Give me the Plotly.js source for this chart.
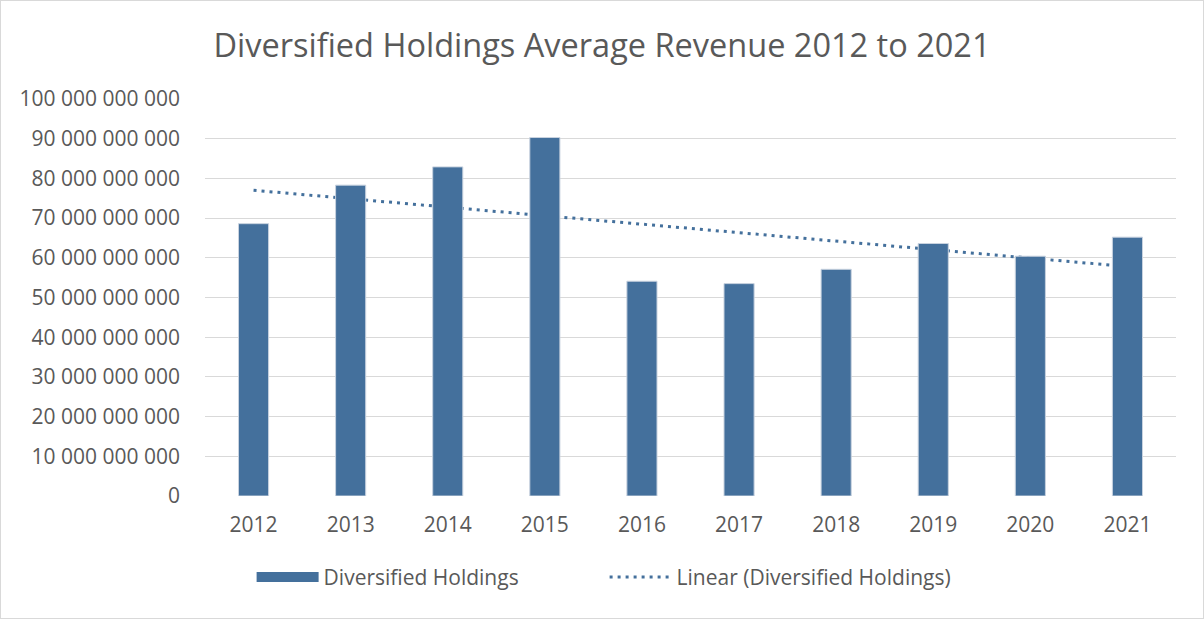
<!DOCTYPE html>
<html>
<head>
<meta charset="utf-8">
<script src="https://cdn.plot.ly/plotly-3.0.1.min.js"></script>
<style>
  html, body { margin: 0; padding: 0; background: #fff; }
  #chart { width: 1202px; height: 617px; border: 1px solid #d9d9d9; }
</style>
</head>
<body>
<div id="chart"></div>
<script>
const years = ["2012", "2013", "2014", "2015", "2016", "2017", "2018", "2019", "2020", "2021"];
const revenue = [68.6e9, 78.3e9, 82.9e9, 90.3e9, 54.1e9, 53.5e9, 57.1e9, 63.6e9, 60.4e9, 65.2e9];
const yTicks = [0, 1e10, 2e10, 3e10, 4e10, 5e10, 6e10, 7e10, 8e10, 9e10, 1e11];

const barColor = "#44709c";
const textColor = "#595959";
const gridColor = "#d9d9d9";

// least squares line over the bar values, like the spreadsheet trendline
function linearTrend(values) {
  const n = values.length;
  const xs = values.map((_, i) => i + 1);
  const mx = xs.reduce((a, b) => a + b, 0) / n;
  const my = values.reduce((a, b) => a + b, 0) / n;
  let sxy = 0;
  let sxx = 0;
  xs.forEach((x, i) => {
    sxy += (x - mx) * (values[i] - my);
    sxx += (x - mx) * (x - mx);
  });
  const slope = sxy / sxx;
  return xs.map((x) => my + slope * (x - mx));
}

const bars = {
  type: "bar",
  name: "Diversified Holdings",
  x: years,
  y: revenue,
  marker: { color: barColor, line: { color: "#c8d2df", width: 1 } },
  zorder: 2,
  showlegend: false,
};

// legend entry only: a wide filled swatch like the spreadsheet legend
const barKey = {
  type: "scatter",
  mode: "lines",
  name: "Diversified Holdings",
  x: [years[0]],
  y: [null],
  line: { color: barColor, width: 14 },
  hoverinfo: "skip",
};

const trend = {
  type: "scatter",
  mode: "lines",
  name: "Linear (Diversified Holdings)",
  x: years,
  y: linearTrend(revenue),
  line: { color: barColor, width: 3, dash: "3px,5px" },
  zorder: 1,
};

const layout = {
  width: 1202,
  height: 617,
  margin: { l: 204, r: 27, t: 98, b: 122 },
  paper_bgcolor: "#fff",
  plot_bgcolor: "#fff",
  separators: ". ",
  font: { family: "Open Sans, Liberation Sans, sans-serif", color: textColor, size: 21 },
  title: {
    text: "Diversified Holdings Average Revenue 2012 to 2021",
    font: { size: 32.5, color: textColor },
    x: 0.5,
    xanchor: "center",
    y: 0.928,
    yanchor: "middle",
  },
  bargap: 0.69,
  showlegend: true,
  legend: {
    orientation: "h",
    x: 0.048,
    xanchor: "left",
    y: -0.205,
    yanchor: "middle",
    font: { size: 21, color: textColor },
    itemwidth: 62,
    entrywidth: 276,
    traceorder: "normal",
  },
  xaxis: {
    type: "category",
    showgrid: false,
    showline: true,
    linecolor: gridColor,
    linewidth: 1,
    ticks: "",
    tickfont: { size: 21, color: textColor },
    ticklabelstandoff: 10,
  },
  yaxis: {
    range: [0, 1e11],
    tickvals: yTicks,
    tickformat: ",d",
    showgrid: true,
    gridcolor: gridColor,
    gridwidth: 1,
    zeroline: false,
    showline: false,
    ticks: "",
    tickfont: { size: 21, color: textColor },
    ticklabelstandoff: 24,
  },
};

Plotly.newPlot("chart", [bars, barKey, trend], layout, { displayModeBar: false, staticPlot: true });
</script>
</body>
</html>
